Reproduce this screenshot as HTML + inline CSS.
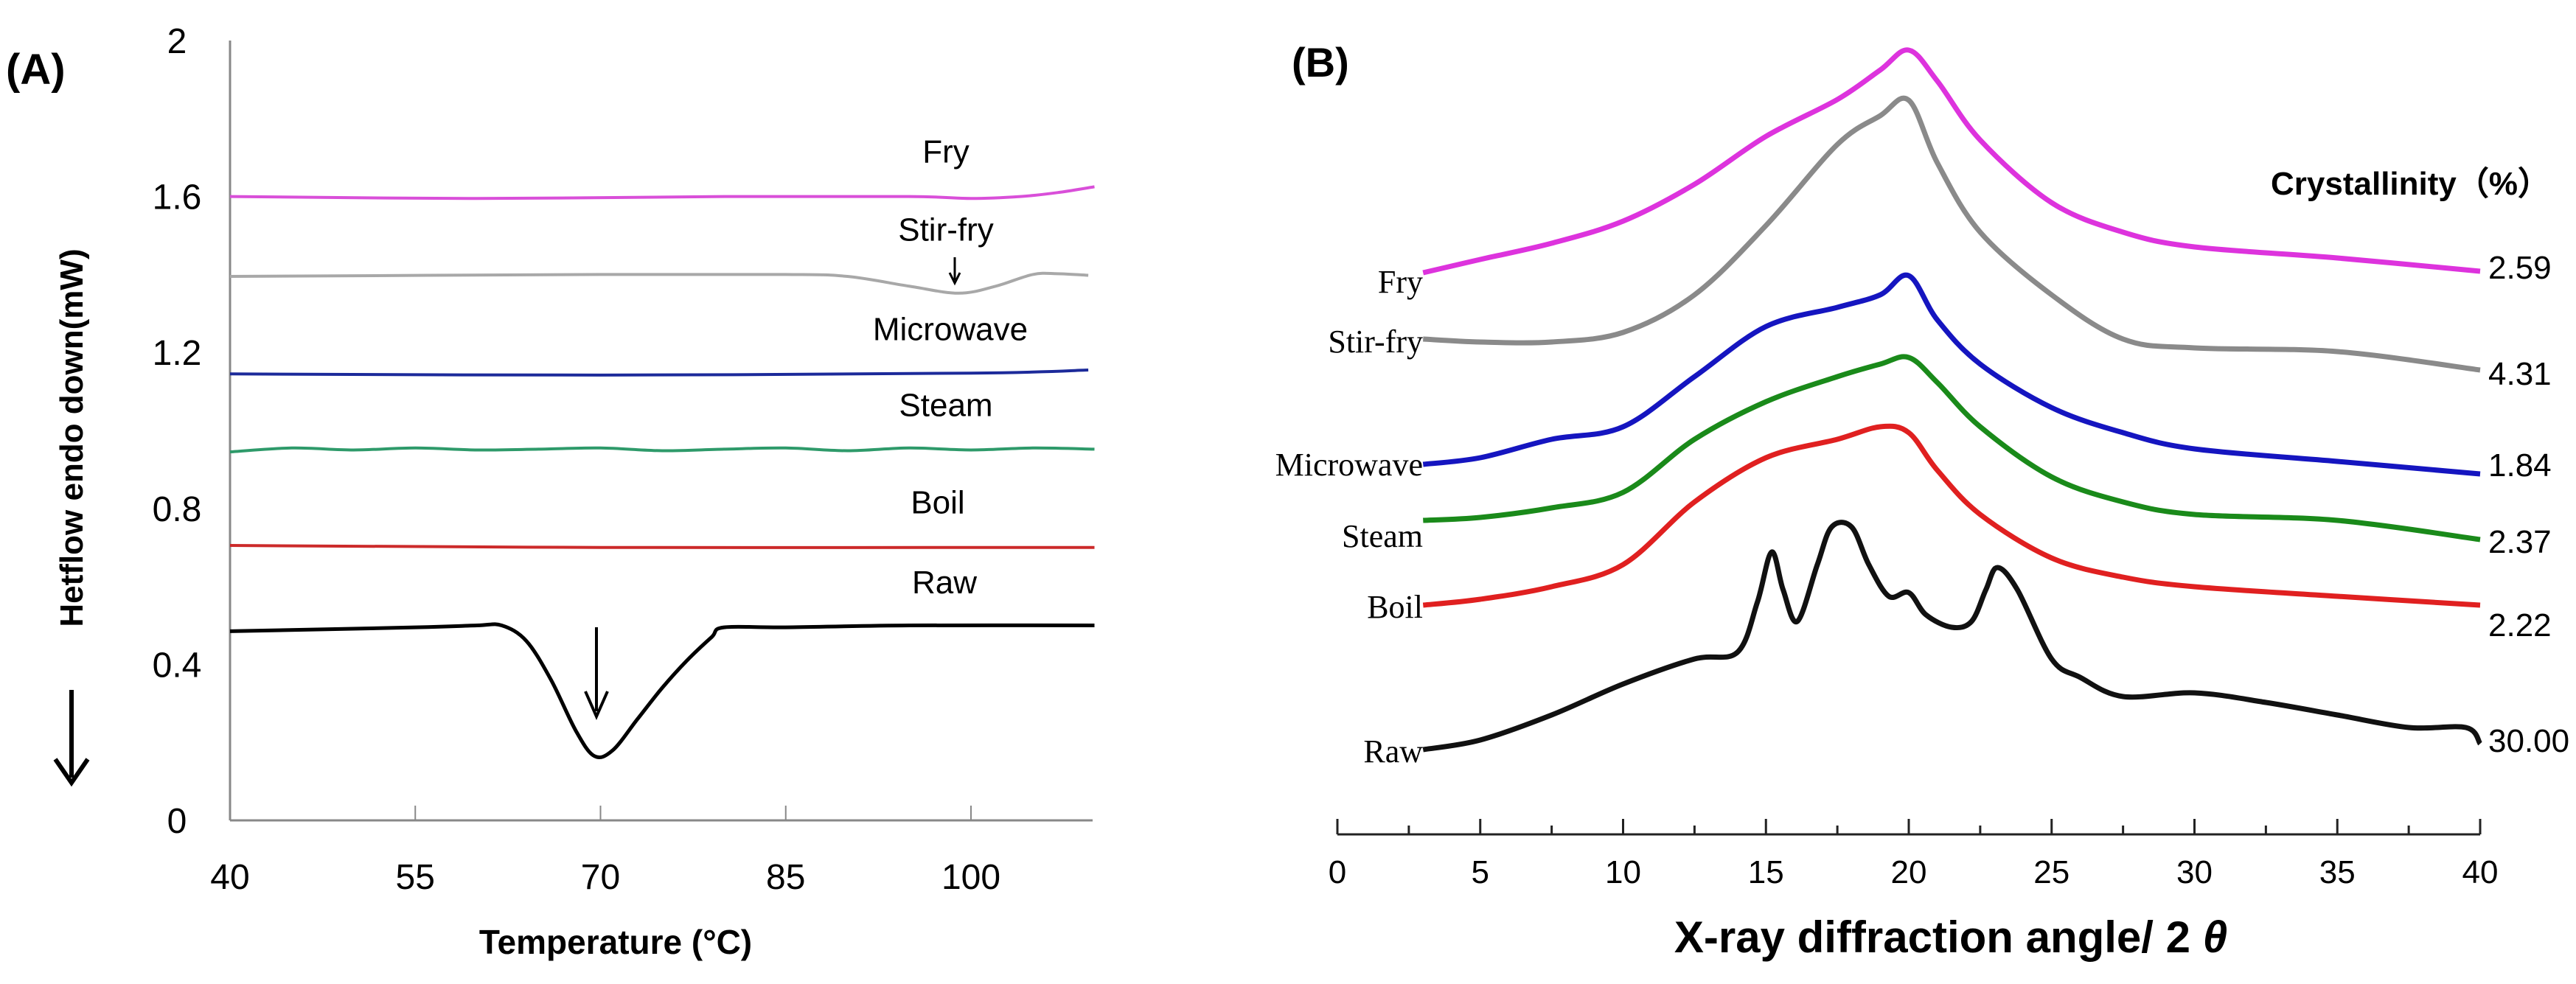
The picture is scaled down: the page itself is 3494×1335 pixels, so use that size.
<!DOCTYPE html>
<html><head><meta charset="utf-8"><style>
html,body{margin:0;padding:0;background:#fff;}
svg{display:block;}
text{font-family:"Liberation Sans",sans-serif;}
.serif{font-family:"Liberation Serif",serif;}
</style></head><body>
<svg id="fig" width="3494" height="1335" viewBox="0 0 3494 1335" xmlns="http://www.w3.org/2000/svg">
<g id="pa">
<text x="8" y="114" font-size="58" font-weight="bold">(A)</text>
<text transform="translate(112,594) rotate(-90)" text-anchor="middle" font-size="44" font-weight="bold">Hetflow endo down(mW)</text>
<g><line x1="97" y1="936" x2="97" y2="1055" stroke="#000" stroke-width="6"/><path d="M75 1030 L97 1062 L119 1030" fill="none" stroke="#000" stroke-width="6"/></g>
<text x="835" y="1294" text-anchor="middle" font-size="46" font-weight="bold">Temperature (°C)</text>
</g>
<g id="pb">
<text x="1752" y="104" font-size="56" font-weight="bold">(B)</text>
<text x="3080" y="264" font-size="44" font-weight="bold">Crystallinity（%）</text>
<text x="2646" y="1292" text-anchor="middle" font-size="60" font-weight="bold">X-ray diffraction angle/ 2 <tspan font-style="italic">θ</tspan></text>
</g>
</svg>
<script>
// ---------- Panel A data (DSC) ----------
const dscTicksX = [40,55,70,85,100];
const dscTicksY = [0,0.4,0.8,1.2,1.6,2];
const dscNames = ["Fry","Stir-fry","Microwave","Steam","Boil","Raw"];
const fryT = [40,60,80,95,100,104,107,110];
const fryV = [1.6,1.595,1.6,1.6,1.595,1.6,1.61,1.625];
const stirT = [40,70,85,90,95,99,102,105,107,109.5];
const stirV = [1.395,1.4,1.4,1.395,1.37,1.352,1.37,1.4,1.402,1.398];
const micT = [40,70,100,109.5];
const micV = [1.145,1.142,1.147,1.155];
const steamT = [40,45,50,55,60,65,70,75,80,85,90,95,100,105,110];
const steamV = [0.945,0.955,0.95,0.955,0.95,0.952,0.955,0.948,0.952,0.955,0.948,0.955,0.95,0.955,0.952];
const boilT = [40,70,110];
const boilV = [0.705,0.7,0.7];
const rawT = [40,55,60,62,64,66,68,69.5,71,73,75,77,79,80,85,95,110];
const rawV = [0.485,0.495,0.5,0.5,0.46,0.36,0.23,0.165,0.18,0.26,0.34,0.41,0.47,0.495,0.495,0.5,0.5];
const dscColors = ["#d94fd9","#a8a8a8","#1c2a9a","#2e9a6a","#cc2a2a","#000"];
const dscLabelY = [1.6,1.4,1.145,0.95,0.7,0.495];

// ---------- Panel B data (XRD) ----------
const xrdTicks = [0,5,10,15,20,25,30,35,40];
const xrdNames = ["Fry","Stir-fry","Microwave","Steam","Boil","Raw"];
const crystallinity = ["2.59","4.31","1.84","2.37","2.22","30.00"];
const xrdA = [3,5,7.5,10,12.5,15,17.5,19,20,21,22.5,25,27.5,30,35,40];
const fryI = [762,780,802,832,882,947,997,1037,1064,1022,942,857,817,797,782,764];
const stirI = [672,668,668,681,732,826,936,975,996,911,817,732,672,660,655,630];
const micI = [502,511,536,553,621,689,715,732,758,698,638,579,545,523,506,489];
const steamI = [426,430,443,464,536,587,621,638,647,613,553,485,451,434,426,400];
const boilI = [311,319,336,366,451,511,536,553,545,494,434,375,349,336,323,311];
const rawA = [3,5,7.5,10,12.5,14,14.7,15.2,15.6,16.1,16.8,17.3,18,18.6,19.3,20,20.6,21.5,22.2,22.7,23.1,23.8,25,26,27.5,30,32.5,35,37.5,39.5,40];
const rawI = [115,128,162,204,238,247,315,383,332,289,366,417,417,366,323,328,298,281,289,332,362,332,238,213,187,192,179,162,145,145,123];
const xrdColors = ["#dd33dd","#8a8a8a","#1515c0","#1a8a1a","#e02020","#111"];

const NS = "http://www.w3.org/2000/svg";
const pa = document.getElementById('pa'), pb = document.getElementById('pb');
function mk(tag, attrs, parent){const e=document.createElementNS(NS,tag);for(const k in attrs)e.setAttribute(k,attrs[k]);parent.appendChild(e);return e;}
function smooth(pts){
  let d = `M${pts[0][0]},${pts[0][1]}`;
  for(let i=0;i<pts.length-1;i++){
    const p0=pts[i-1]||pts[i], p1=pts[i], p2=pts[i+1], p3=pts[i+2]||p2;
    const c1=[p1[0]+(p2[0]-p0[0])/6, p1[1]+(p2[1]-p0[1])/6];
    const c2=[p2[0]-(p3[0]-p1[0])/6, p2[1]-(p3[1]-p1[1])/6];
    d+=` C${c1[0]},${c1[1]} ${c2[0]},${c2[1]} ${p2[0]},${p2[1]}`;
  }
  return d;
}
// Panel A axes
const ax = t => 312 + (t-40)*(1005/60);
const ay = v => 1113 - v*529;
let e;
e = mk('line',{x1:312,y1:ay(2),x2:312,y2:ay(0),stroke:'#888','stroke-width':3},pa);


e = mk('line',{x1:312,y1:ay(0),x2:1482,y2:ay(0),stroke:'#888','stroke-width':3},pa);


dscTicksX.forEach(t=>{
  e = mk('line',{x1:ax(t),y1:ay(0),x2:ax(t),y2:ay(0)-20,stroke:'#888','stroke-width':2},pa);
  
  
  e = mk('text',{x:ax(t),y:1206,'text-anchor':'middle','font-size':48},pa);
  e.textContent=t;
  
  
});
dscTicksY.forEach(v=>{
  e = mk('text',{x:240,y:ay(v)+17,'text-anchor':'middle','font-size':48},pa);
  e.textContent=String(v);
  
  
});
const dscT=[fryT,stirT,micT,steamT,boilT,rawT], dscV=[fryV,stirV,micV,steamV,boilV,rawV];
const dscLabelX=[1283,1283,1289,1283,1272,1281];
dscNames.forEach((n,i)=>{
  const pts = dscT[i].map((t,j)=>[ax(t),ay(dscV[i][j])]);
  e = mk('path',{d:smooth(pts),fill:'none',stroke:dscColors[i],'stroke-width':i==5?5:4},pa);
  
  
  e = mk('text',{x:dscLabelX[i],y:ay(dscLabelY[i])-46,'text-anchor':'middle','font-size':44},pa);
  e.textContent=n;
  
  
});
// peak arrows
e = mk('g',{},pa);


mk('line',{x1:809,y1:851,x2:809,y2:965,stroke:'#000','stroke-width':4},e);
mk('path',{d:'M794 938 L809 972 L824 938',fill:'none',stroke:'#000','stroke-width':4},e);
e = mk('g',{},pa);


mk('line',{x1:1295,y1:349,x2:1295,y2:380,stroke:'#000','stroke-width':3},e);
mk('path',{d:'M1288 370 L1295 384 L1302 370',fill:'none',stroke:'#000','stroke-width':3},e);

// Panel B axes
const bx = a => 1814 + a*38.75;
const by = v => 1132 - v;
e = mk('line',{x1:bx(0),y1:1132,x2:bx(40),y2:1132,stroke:'#222','stroke-width':3},pb);


for(let a=0;a<=40;a+=2.5){
  const major = a%5===0;
  e = mk('line',{x1:bx(a),y1:1132,x2:bx(a),y2:1132-(major?21:12),stroke:'#222','stroke-width':3},pb);
  
  
}
xrdTicks.forEach(t=>{
  e = mk('text',{x:bx(t),y:1198,'text-anchor':'middle','font-size':44},pb);
  e.textContent=t;
  
  
});
const xrdX=[xrdA,xrdA,xrdA,xrdA,xrdA,rawA], xrdY=[fryI,stirI,micI,steamI,boilI,rawI];
const leftY=[383,464,631,728,824,1020], rightY=[362,506,630,734,847,1004];
xrdNames.forEach((n,i)=>{
  const pts = xrdX[i].map((a,j)=>[bx(a),by(xrdY[i][j])]);
  e = mk('path',{d:smooth(pts),fill:'none',stroke:xrdColors[i],'stroke-width':7,'stroke-linejoin':'round'},pb);
  
  
  e = mk('text',{x:1930,y:leftY[i]+14,'text-anchor':'end','font-size':44,class:'serif'},pb);
  e.textContent=n;
  
  
  e = mk('text',{x:3375,y:rightY[i]+16,'font-size':44},pb);
  e.textContent=crystallinity[i];
  
  
});
</script>
</body></html>
